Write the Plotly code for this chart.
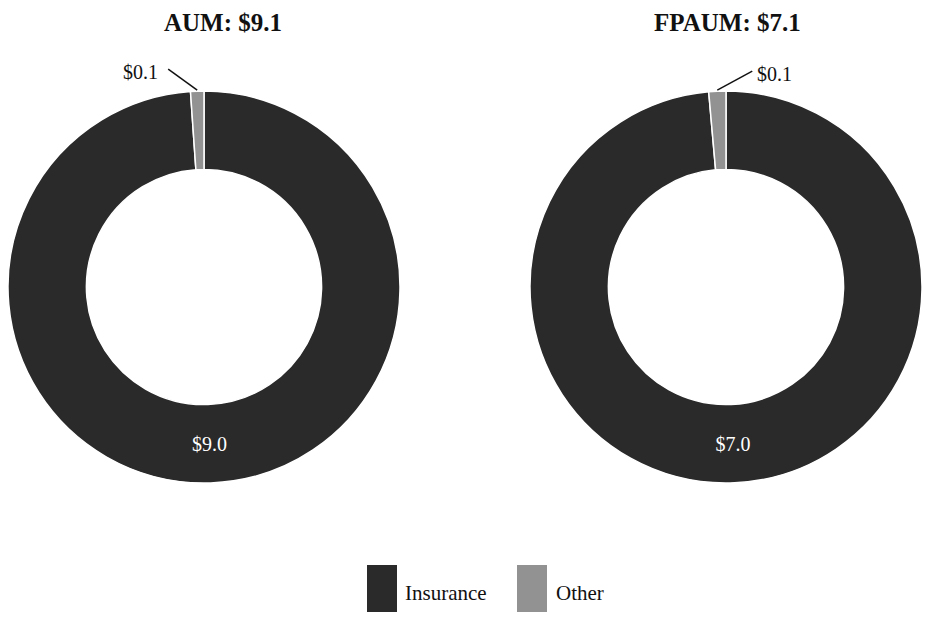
import plotly.graph_objects as go
import math

categories = ["Insurance", "Other"]
aum_values = [9.0, 0.1]
fpaum_values = [7.0, 0.1]
titles = ["AUM: $9.1", "FPAUM: $7.1"]
colors = ["#2a2a2a", "#929292"]

W, H = 914, 604
FONT = "Liberation Serif"
OFF = 8  # page body margin in the browser


def px_x(x):
    return min(max((x - OFF) / W, 0.0), 1.0)


def px_y(y):
    return min(max(1 - (y - OFF) / H, 0.0), 1.0)


# donut geometry (pixels in the screenshot)
centers = [(204, 287), (726, 287)]
R = 196

fig = go.Figure()
for vals, (cx, cy) in zip([aum_values, fpaum_values], centers):
    fig.add_trace(go.Pie(
        labels=categories, values=vals, hole=0.6, sort=False,
        direction="clockwise", rotation=0,
        marker=dict(colors=colors, line=dict(color="white", width=1.5)),
        texttemplate="$%{value:.1f}", textinfo="text",
        textposition=["inside", "none"],
        insidetextorientation="horizontal",
        textfont=dict(family=FONT, size=20, color="white"),
        showlegend=False, hoverinfo="label+value",
        domain=dict(x=[px_x(cx - R), px_x(cx + R)], y=[px_y(cy + R), px_y(cy - R)]),
    ))

annotations = []
shapes = []
title_x = [223, 727]
for t, tx in zip(titles, title_x):
    annotations.append(dict(x=px_x(tx), y=px_y(23), xref="paper", yref="paper", text="<b>%s</b>" % t,
                            showarrow=False, font=dict(family=FONT, size=25, color="#111111"),
                            xanchor="center", yanchor="middle", borderpad=0))

# outside labels for "Other" slices, with leader lines
leaders = [((-29, -21), "right", -8), ((35, -19), "left", 3)]
for vals, (cx, cy), ((dx, dy), anchor, gap) in zip([aum_values, fpaum_values], centers, leaders):
    tot = sum(vals)
    mid = 360 * (1 - vals[1] / tot / 2)
    ang = math.radians(mid)
    tipx = cx + (R + 1) * math.sin(ang)
    tipy = cy - (R + 1) * math.cos(ang)
    ex, ey = tipx + dx, tipy + dy
    shapes.append(dict(type="line", xref="paper", yref="paper",
                       x0=px_x(tipx), y0=px_y(tipy), x1=px_x(ex), y1=px_y(ey),
                       line=dict(color="#111111", width=1.5)))
    annotations.append(dict(x=px_x(ex + gap), y=px_y(ey + 3), xref="paper", yref="paper",
                            text="$%.1f" % vals[1], showarrow=False,
                            xanchor=anchor, yanchor="middle",
                            font=dict(family=FONT, size=20, color="#111111")))

# custom legend
legend_items = [(367, 403, categories[0], colors[0]), (517, 554, categories[1], colors[1])]
for sx, tx, name, col in legend_items:
    shapes.append(dict(type="rect", xref="paper", yref="paper",
                       x0=px_x(sx), x1=px_x(sx + 30), y0=px_y(620), y1=px_y(565),
                       fillcolor=col, line=dict(width=0)))
    annotations.append(dict(x=px_x(tx), y=px_y(593), xref="paper", yref="paper", text=name,
                            showarrow=False, xanchor="left", yanchor="middle",
                            font=dict(family=FONT, size=21, color="#111111")))

fig.update_layout(width=W, height=H, margin=dict(l=0, r=0, t=0, b=0),
                  paper_bgcolor="white", plot_bgcolor="white",
                  annotations=annotations, shapes=shapes)
fig.write_html("out.html")
